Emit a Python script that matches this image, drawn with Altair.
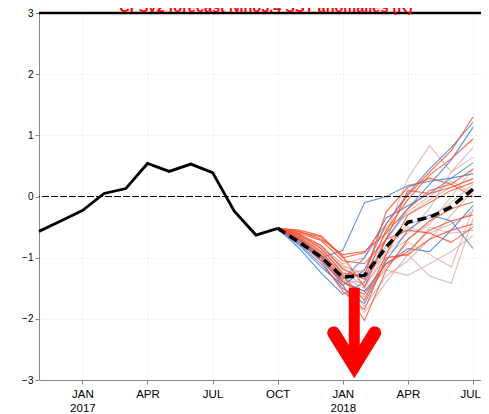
import altair as alt
import pandas as pd

# ---------------- data ----------------
# month index: 0 = NOV 2016 ... 11 = OCT 2017 ... 20 = JUL 2018
obs_month = list(range(12))
obs_value = [-0.57, -0.40, -0.23, 0.05, 0.13, 0.54, 0.41, 0.53, 0.39, -0.24, -0.63, -0.52]

fc_month = list(range(11, 21))  # OCT 2017 .. JUL 2018
mean_value = [-0.52, -0.75, -0.99, -1.32, -1.29, -0.83, -0.42, -0.34, -0.17, 0.12]

red_members = [
    [-0.52, -0.58, -0.66, -1.00, -0.92, -0.45, 0.02, 0.40, 0.75, 1.30],
    [-0.52, -0.62, -0.80, -1.18, -1.35, -0.55, -0.05, 0.35, 0.62, 0.94],
    [-0.52, -0.55, -0.64, -0.98, -1.48, -0.70, 0.10, 0.05, 0.15, 0.29],
    [-0.52, -0.66, -0.90, -1.30, -1.70, -0.95, -0.30, -0.10, 0.10, 0.23],
    [-0.52, -0.70, -1.00, -1.45, -2.03, -1.20, -0.70, -0.40, -0.20, -0.09],
    [-0.52, -0.60, -0.72, -1.05, -1.10, -0.70, -0.55, -0.60, -0.75, -0.50],
    [-0.52, -0.75, -1.05, -1.55, -1.85, -1.00, -0.95, -0.70, -0.55, -0.45],
    [-0.52, -0.57, -0.70, -0.95, -0.90, -0.60, -0.20, 0.10, 0.20, 0.00],
    [-0.52, -0.68, -0.95, -1.40, -1.60, -1.10, -0.90, -0.55, -0.40, -0.30],
    [-0.52, -0.63, -0.85, -1.25, -1.30, -0.25, 0.15, 0.30, 0.20, 0.45],
]
blue_members = [
    [-0.52, -0.75, -1.00, -0.88, -0.10, 0.00, 0.18, 0.25, 0.30, 0.37],
    [-0.52, -0.80, -1.15, -1.45, -1.20, -0.45, 0.05, 0.45, 0.80, 1.21],
    [-0.52, -0.85, -1.25, -1.60, -1.40, -0.70, -0.20, 0.20, 0.60, 1.13],
    [-0.52, -0.78, -1.10, -1.50, -1.75, -1.05, -0.55, -0.30, -0.40, -0.85],
    [-0.52, -0.72, -1.05, -1.40, -1.55, -1.10, -0.85, -0.90, -0.55, -0.15],
    [-0.52, -0.70, -0.98, -1.35, -1.00, -0.35, -0.15, 0.05, 0.30, 0.55],
]
tan_members = [
    [-0.52, -0.70, -0.95, -1.30, -1.20, -0.60, 0.30, 0.83, 0.40, 0.64],
    [-0.52, -0.72, -1.00, -1.40, -1.55, -1.20, -1.29, -1.10, -0.90, -0.64],
    [-0.52, -0.68, -0.92, -1.25, -1.45, -1.00, -0.95, -1.30, -1.42, -0.36],
    [-0.52, -0.65, -0.88, -1.20, -1.35, -0.80, -0.45, -0.35, -0.10, 0.20],
    [-0.52, -0.66, -0.90, -1.28, -1.65, -1.15, -0.75, -0.95, -1.15, -0.20],
    [-0.52, -0.62, -0.85, -1.15, -1.25, -0.70, -0.25, 0.00, 0.25, 0.05],
    [-0.52, -0.70, -0.97, -1.35, -1.80, -1.30, -1.05, -0.70, -0.30, 0.10],
    [-0.52, -0.64, -0.82, -1.10, -1.00, -0.50, -0.30, -0.05, 0.15, 0.30],
    [-0.52, -0.74, -1.02, -1.45, -1.90, -1.40, -0.95, -0.50, -0.60, -0.55],
    [-0.52, -0.67, -0.93, -1.32, -1.50, -0.90, -0.60, -0.20, 0.40, 0.80],
    [-0.52, -0.69, -0.96, -1.38, -1.40, -0.85, -0.50, -0.60, -0.45, -0.25],
    [-0.52, -0.61, -0.80, -1.12, -1.30, -0.95, -0.70, -0.45, 0.00, 0.45],
]

tick_pos = [2, 5, 8, 11, 14, 17, 20]
tick_text = ["JAN\n2017", "APR", "JUL", "OCT", "JAN\n2018", "APR", "JUL"]
y_ticks = [-3, -2.5, -2, -1.5, -1, -0.5, 0, 0.5, 1, 1.5, 2, 2.5, 3]

title_text = "CFSv2 forecast Nino3.4 SST anomalies (K)"

# arrow annotation (month index, value)
arrow_shaft_x = [14.53, 14.53]
arrow_shaft_y = [-1.49, -2.62]
arrow_head_x = [13.58, 14.53, 15.47]
arrow_head_y = [-2.23, -2.77, -2.23]

# ---------------- tables ----------------
def members_df(prefix, members):
    rows = []
    for i, vals in enumerate(members):
        for m, v in zip(fc_month, vals):
            rows.append({"member": f"{prefix}{i}", "month": m, "value": v})
    return pd.DataFrame(rows)

tan_df = members_df("t", tan_members)
blue_df = members_df("b", blue_members)
red_df = members_df("r", red_members)
obs_df = pd.DataFrame({"month": obs_month, "value": obs_value})
mean_df = pd.DataFrame({"month": fc_month, "value": mean_value})
shaft_df = pd.DataFrame({"month": [arrow_shaft_x[0]], "value": [arrow_shaft_y[0]],
                         "value2": [arrow_shaft_y[1]]})
head_df = pd.DataFrame({"month": arrow_head_x, "value": arrow_head_y, "o": [0, 1, 2]})

# label expression from tick labels
expr = "''"
for p, t in reversed(list(zip(tick_pos, tick_text))):
    if "\n" in t:
        lab = "[" + ",".join(f"'{s}'" for s in t.split("\n")) + "]"
    else:
        lab = f"'{t}'"
    expr = f"datum.value == {p} ? {lab} : ({expr})"

FONT = "Liberation Sans, Arial, sans-serif"
GRID_DASH = [1, 3]

x_enc = alt.X(
    "month:Q",
    scale=alt.Scale(domain=[0, 20.37], nice=False, zero=False),
    axis=alt.Axis(values=tick_pos, labelExpr=expr, title=None, tickSize=4,
                  labelPadding=4, labelLineHeight=14.5, labelBaseline="top",
                  labelFontSize=11.5, labelFlush=10, labelFlushOffset=7.5,
                  grid=True, gridDash=GRID_DASH),
)
y_enc = alt.Y(
    "value:Q",
    scale=alt.Scale(domain=[-3, 3], nice=False, zero=False),
    axis=alt.Axis(values=y_ticks, format="~g", title=None, tickSize=4,
                  labelPadding=2, grid=True, gridDash=GRID_DASH),
)

tan = alt.Chart(tan_df).mark_line(color="#d7aaa2", strokeWidth=1.1, opacity=0.8).encode(
    x=x_enc, y=y_enc, detail="member:N")
blue = alt.Chart(blue_df).mark_line(color="#3f7fe3", strokeWidth=1.1, opacity=0.85).encode(
    x=x_enc, y=y_enc, detail="member:N")
red = alt.Chart(red_df).mark_line(color="#ff4b26", strokeWidth=1.1, opacity=0.85).encode(
    x=x_enc, y=y_enc, detail="member:N")

zero = alt.Chart(pd.DataFrame({"v": [0]})).mark_rule(
    color="black", strokeWidth=1, strokeDash=[7, 2]).encode(y=alt.Y("v:Q"))
top = alt.Chart(pd.DataFrame({"v": [3]})).mark_rule(
    color="black", strokeWidth=2.5).encode(y=alt.Y("v:Q"))

obs = alt.Chart(obs_df).mark_line(color="black", strokeWidth=2.8).encode(x=x_enc, y=y_enc)
mean = alt.Chart(mean_df).mark_line(color="black", strokeWidth=3.5, strokeDash=[9, 5]).encode(
    x=x_enc, y=y_enc)

shaft = alt.Chart(shaft_df).mark_rule(color="#ff0000", strokeWidth=11).encode(
    x=x_enc, y=y_enc, y2="value2:Q")
head = alt.Chart(head_df).mark_line(color="#ff0000", strokeWidth=13, strokeCap="round",
                                    strokeJoin="miter").encode(
    x=x_enc, y=y_enc, order="o:Q")

title = alt.Chart(pd.DataFrame({"t": [title_text]})).mark_text(
    color="#ff0000", fontSize=14.5, fontWeight="bold", font=FONT,
    align="center", baseline="alphabetic").encode(
    text="t:N", x=alt.value(227), y=alt.value(-1.5))

chart = alt.layer(tan, blue, red, zero, top, obs, mean, shaft, head, title).properties(
    width=442, height=367,
    autosize=alt.AutoSizeParams(type="none"),
    padding={"left": 31, "top": 5, "right": 0, "bottom": 36},
).configure_view(stroke=None).configure_axis(
    labelFont=FONT, labelFontSize=12, labelColor="#555555",
    tickColor="#777777", domainColor="black", domainWidth=2.5,
    gridColor="#7a7a7a", gridWidth=1,
).configure(background="white")

chart.save("out.html", embed_options={"renderer": "svg", "actions": False})
